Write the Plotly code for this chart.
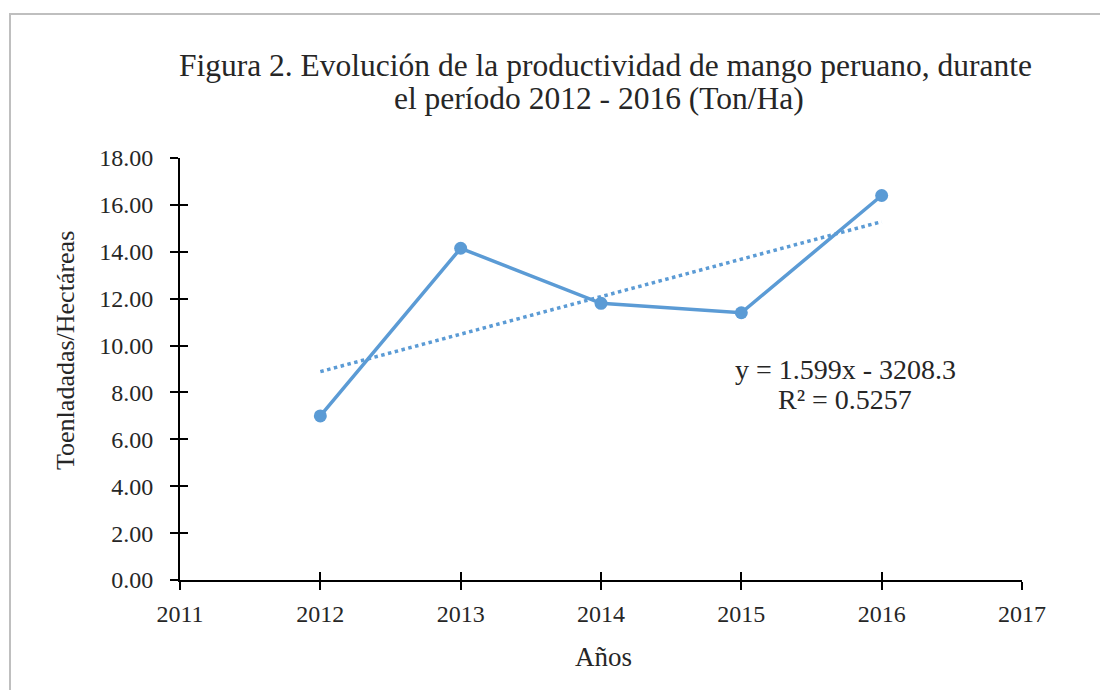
import plotly.graph_objs as go

years = [2012, 2013, 2014, 2015, 2016]
productividad = [7.00, 14.15, 11.80, 11.40, 16.40]
trend_slope = 1.599
trend_intercept = -3208.3
trend_r2 = 0.5257

x_ticks = [2011, 2012, 2013, 2014, 2015, 2016, 2017]
y_ticks = [0, 2, 4, 6, 8, 10, 12, 14, 16, 18]

blue = '#5B9BD5'
serif = 'Liberation Serif'
ink = '#262626'

trend_y = [trend_slope * x + trend_intercept for x in years]

fig = go.Figure()
fig.add_trace(
    go.Scatter(
        x=years,
        y=productividad,
        mode='lines+markers',
        line=dict(color=blue, width=3.5),
        marker=dict(color=blue, size=13),
        showlegend=False,
    )
)
fig.add_trace(
    go.Scatter(
        x=[years[0], years[-1]],
        y=[trend_y[0], trend_y[-1]],
        mode='lines',
        line=dict(color=blue, width=3.5, dash='dot'),
        showlegend=False,
    )
)
# invisible trace so the cross-tick axes are drawn
fig.add_trace(go.Scatter(x=[2011], y=[0], xaxis='x2', yaxis='y2', mode='markers',
                         marker=dict(opacity=0), showlegend=False, hoverinfo='skip'))

axis_common = dict(
    showgrid=False,
    zeroline=False,
    ticklen=8,
    tickwidth=2,
    tickcolor='black',
)

# the page body has an 8px margin, so the figure is 16px smaller than the window
fig.update_layout(
    width=1100,
    height=682,
    margin=dict(l=172, r=86, t=150, b=110),
    paper_bgcolor='white',
    plot_bgcolor='white',
    font=dict(family=serif, color=ink, size=24),
    xaxis=dict(
        range=[2011, 2017],
        tickvals=x_ticks,
        showline=True,
        linecolor='black',
        linewidth=2,
        ticks='outside',
        ticklabelstandoff=3,
        tickfont=dict(size=24),
        **axis_common,
    ),
    yaxis=dict(
        range=[0, 18],
        tickvals=y_ticks,
        tickformat='.2f',
        showline=True,
        linecolor='black',
        linewidth=2,
        ticks='outside',
        ticklabelstandoff=12,
        tickfont=dict(size=24),
        **axis_common,
    ),
    xaxis2=dict(
        overlaying='x', anchor='y', side='bottom',
        range=[2011, 2017], tickvals=x_ticks,
        showticklabels=False, ticks='inside',
        **axis_common,
    ),
    yaxis2=dict(
        overlaying='y', anchor='x', side='left',
        range=[0, 18], tickvals=y_ticks,
        showticklabels=False, ticks='inside',
        **axis_common,
    ),
)

# title, two lines set close together as in the original
fig.add_annotation(
    x=0.5048, y=1.22, xref='paper', yref='paper',
    text='Figura 2. Evolución de la productividad de mango peruano, durante',
    showarrow=False, xanchor='center', yanchor='middle',
    font=dict(family=serif, size=31.5, color=ink),
)
fig.add_annotation(
    x=0.498, y=1.14, xref='paper', yref='paper',
    text='el período 2012 - 2016 (Ton/Ha)',
    showarrow=False, xanchor='center', yanchor='middle',
    font=dict(family=serif, size=31.5, color=ink),
)

# axis titles
fig.add_annotation(
    x=0.503, y=-0.1825, xref='paper', yref='paper',
    text='Años', showarrow=False, xanchor='center', yanchor='middle',
    font=dict(family=serif, size=27, color=ink),
)
fig.add_annotation(
    x=-0.1366, y=0.545, xref='paper', yref='paper',
    text='Toenladadas/Hectáreas', showarrow=False, textangle=-90,
    xanchor='center', yanchor='middle',
    font=dict(family=serif, size=26, color=ink),
)

# trendline equation
fig.add_annotation(
    x=2015.74, y=9.0, xref='x', yref='y',
    text='y = %.3fx - %.1f' % (trend_slope, -trend_intercept),
    showarrow=False, xanchor='center', yanchor='middle',
    font=dict(family=serif, size=28, color=ink),
)
fig.add_annotation(
    x=2015.74, y=7.72, xref='x', yref='y',
    text='R² = %.4f' % trend_r2,
    showarrow=False, xanchor='center', yanchor='middle',
    font=dict(family=serif, size=28, color=ink),
)

# chart border
fig.add_shape(
    type='rect', xref='paper', yref='paper',
    x0=-0.2019, x1=1.2, y0=-0.5, y1=1.341,
    line=dict(color='#BFBFBF', width=2),
    layer='below',
)

fig.write_html('out.html')
